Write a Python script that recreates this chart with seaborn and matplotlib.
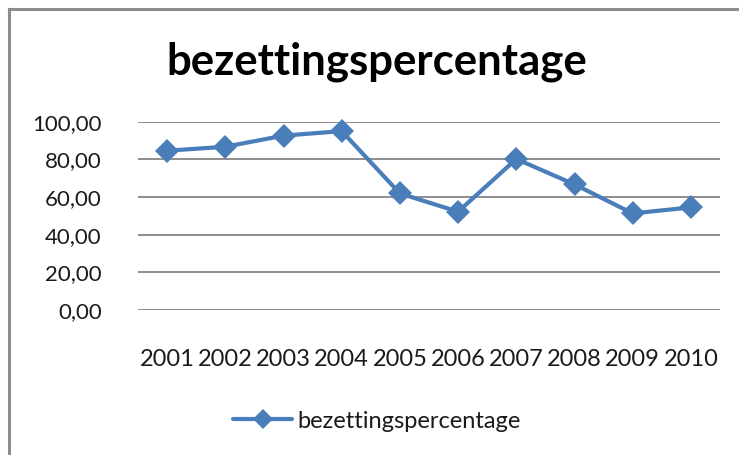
import matplotlib
matplotlib.use("Agg")
import matplotlib.pyplot as plt
import seaborn as sns
import pandas as pd
from matplotlib.lines import Line2D

years = ["2001", "2002", "2003", "2004", "2005", "2006", "2007", "2008", "2009", "2010"]
values = [84.6, 86.7, 92.6, 95.0, 61.9, 52.2, 80.2, 66.7, 51.3, 54.5]
series_name = "bezettingspercentage"
title_text = "bezettingspercentage"
y_ticks = [0, 20, 40, 60, 80, 100]

sns.set_theme(style="white")
plt.rcParams["font.family"] = ["Lato", "DejaVu Sans"]

df = pd.DataFrame({"year": years, "value": values})

W, H = 739, 455
fig = plt.figure(figsize=(W / 100, H / 100), dpi=100)
ax = fig.add_axes([138 / W, 1 - 310 / H, (720 - 138) / W, (310 - 121.7) / H])

color = "#4A7EBB"
sns.lineplot(data=df, x="year", y="value", ax=ax, color=color, linewidth=3.0,
             marker="D", markersize=12, markeredgewidth=0, sort=False)

ax.set_xlim(-0.5, len(years) - 0.5)
ax.set_ylim(0, 100)
ax.set_yticks(y_ticks)
ax.set_yticklabels([f"{v:.2f}".replace(".", ",") for v in y_ticks], fontsize=16, color="#1a1a1a")
ax.set_xticks(range(len(years)))
ax.set_xticklabels(years, fontsize=17, color="#1a1a1a")
ax.tick_params(axis="y", length=0, pad=26)
ax.tick_params(axis="x", length=0, pad=28)
ax.set_xlabel("")
ax.set_ylabel("")
for s in ax.spines.values():
    s.set_visible(False)
ax.yaxis.grid(True, color="#868686", linewidth=1.3)
ax.xaxis.grid(False)
ax.set_axisbelow(True)
for ln in ax.lines:
    ln.set_clip_on(False)

fig.text(377 / W, 1 - 62 / H, title_text, ha="center", va="center",
         fontsize=31.5, fontweight="bold", color="#000000")

# legend
handle = Line2D([], [], color=color, linewidth=3.0, marker="D", markersize=10,
                markeredgewidth=0)
leg = fig.legend([handle], [series_name], loc="center", bbox_to_anchor=(377 / W, 1 - 421 / H),
                 frameon=False, fontsize=17, handlelength=2.5, handletextpad=0.2,
                 labelcolor="#1a1a1a")

# chart border (left and top edges only visible)
bx, by = 9.3 / W, 1 - 9.3 / H
fig.add_artist(Line2D([bx, bx], [0, by], transform=fig.transFigure,
                      color="#8c8c8c", linewidth=2.2, solid_capstyle="projecting"))
fig.add_artist(Line2D([bx, 1], [by, by], transform=fig.transFigure,
                      color="#8c8c8c", linewidth=2.2, solid_capstyle="projecting"))

fig.savefig("out.png", dpi=100)
